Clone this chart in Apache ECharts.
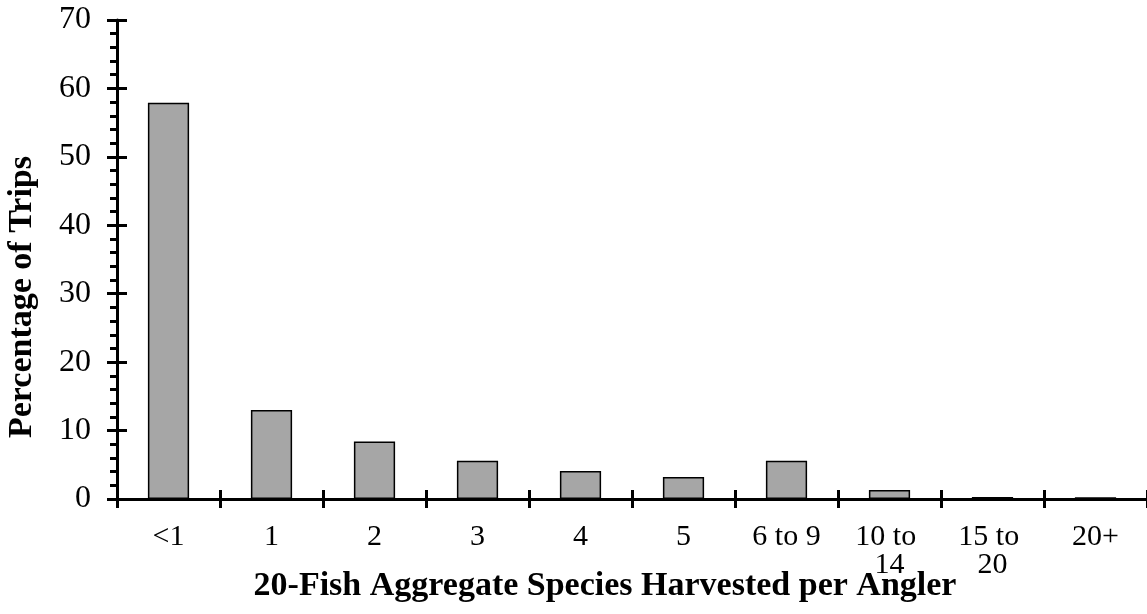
<!DOCTYPE html>
<html>
<head>
<meta charset="utf-8">
<script src="https://cdn.jsdelivr.net/npm/echarts@6/dist/echarts.min.js"></script>
<style>
html,body{margin:0;padding:0;background:#fff;}
#chart{width:1147px;height:614px;}
</style>
</head>
<body>
<div id="chart"></div>
<script>
var categories = ['<1', '1', '2', '3', '4', '5', '6 to 9', '10 to 14', '15 to 20', '20+'];
var percentTrips = [57.9, 13.0, 8.4, 5.6, 4.1, 3.2, 5.6, 1.3, 0.3, 0.25];
var yTitle = 'Percentage of Trips';
var xTitle = '20-Fish Aggregate Species Harvested per Angler';

var FONT = 'Liberation Serif';
var chart = echarts.init(document.getElementById('chart'), null, {renderer: 'canvas'});
var gridBox = {left: 117, top: 20, width: 1033, height: 479};
chart.setOption({
  animation: false,
  backgroundColor: '#fff',
  grid: gridBox,
  xAxis: [{
    type: 'category',
    data: categories,
    position: 'bottom',
    axisLine: {show: true, lineStyle: {color: '#000', width: 3}},
    axisTick: {show: true, inside: false, length: 9, lineStyle: {color: '#000', width: 3}},
    axisLabel: {
      color: '#000', fontFamily: FONT, fontSize: 30, margin: 24,
      width: 72, overflow: 'break', lineHeight: 28, interval: 0
    },
    splitLine: {show: false}
  }, {
    type: 'category',
    data: categories,
    position: 'bottom',
    axisLine: {show: false},
    axisTick: {show: true, inside: true, length: 9, lineStyle: {color: '#000', width: 3}},
    axisLabel: {show: false},
    splitLine: {show: false}
  }],
  yAxis: [{
    type: 'value',
    min: 0, max: 70, interval: 10,
    position: 'left',
    axisLine: {show: true, lineStyle: {color: '#000', width: 3}},
    axisTick: {show: true, inside: false, length: 10, lineStyle: {color: '#000', width: 3}},
    minorTick: {show: true, splitNumber: 5, length: 7, lineStyle: {color: '#000', width: 3}},
    axisLabel: {color: '#000', fontFamily: FONT, fontSize: 32, margin: 26},
    splitLine: {show: false}
  }, {
    type: 'value',
    min: 0, max: 70, interval: 10,
    position: 'left',
    axisLine: {show: false},
    axisTick: {show: true, inside: true, length: 10, lineStyle: {color: '#000', width: 3}},
    axisLabel: {show: false},
    splitLine: {show: false}
  }],
  series: [{
    type: 'bar',
    xAxisIndex: 0,
    yAxisIndex: 0,
    data: percentTrips,
    barWidth: '40%',
    itemStyle: {color: '#a6a6a6', borderColor: '#000', borderWidth: 1.5}
  }],
  graphic: [{
    type: 'text',
    x: 22, y: 297,
    rotation: Math.PI / 2,
    style: {text: yTitle, font: 'bold 34px "Liberation Serif"', fill: '#000', align: 'center', verticalAlign: 'middle'}
  }, {
    type: 'text',
    x: 605, y: 586,
    style: {text: xTitle, font: 'bold 34px "Liberation Serif"', fill: '#000', align: 'center', verticalAlign: 'middle'}
  }]
});
</script>
</body>
</html>
